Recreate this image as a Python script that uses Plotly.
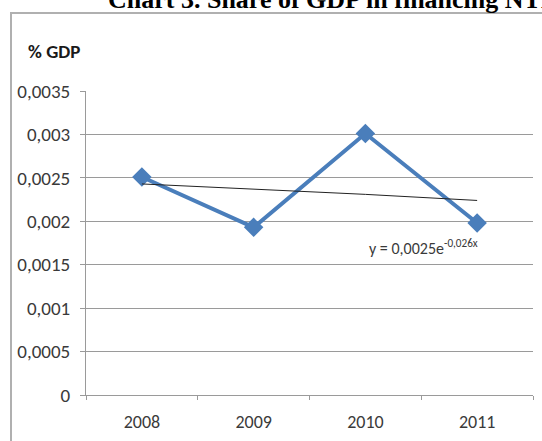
import plotly.graph_objects as go

years = ["2008", "2009", "2010", "2011"]
share_gdp = [0.00251, 0.00193, 0.00301, 0.00198]
trend_values = [0.00243, 0.00237, 0.00231, 0.00224]
y_tick_vals = [0, 0.0005, 0.001, 0.0015, 0.002, 0.0025, 0.003, 0.0035]
y_tick_text = ["0", "0,0005", "0,001", "0,0015", "0,002", "0,0025", "0,003", "0,0035"]
title_text = "Chart 3. Share of GDP in financing NTM"
y_label = "% GDP"
equation = "y = 0,0025e<sup>-0,026x</sup>"

W, H = 542, 441
L, R, T, B = 86, 9, 91, 46
PW, PH = W - L - R, H - T - B

def px(x):
    return (x - L) / PW

def py(y):
    return (H - B - y) / PH

FONT = "Carlito, Lato, sans-serif"
GRID = "#9a9a9a"

fig = go.Figure()
fig.add_trace(go.Scatter(
    x=years, y=share_gdp, mode="lines+markers",
    line=dict(color="#4a7ebb", width=4),
    marker=dict(symbol="diamond", size=15, color="#4a7ebb"),
    showlegend=False, hoverinfo="skip",
))
fig.add_trace(go.Scatter(
    x=years, y=trend_values, mode="lines",
    line=dict(color="#222222", width=1),
    showlegend=False, hoverinfo="skip",
))

fig.update_layout(
    width=W, height=H,
    margin=dict(l=L, r=R, t=T, b=B, pad=0),
    paper_bgcolor="white", plot_bgcolor="white",
    font=dict(family=FONT, size=15, color="#3a3a3a"),
    xaxis=dict(
        type="category", range=[-0.5, 3.5], showgrid=False,
        showline=True, linecolor=GRID, linewidth=1,
        ticks="outside", tickson="boundaries", ticklen=4, tickcolor=GRID,
        tickfont=dict(family=FONT, size=18, color="#3a3a3a"),
        ticklabelstandoff=10, zeroline=False,
    ),
    yaxis=dict(
        range=[0, 0.0035], tickvals=y_tick_vals, ticktext=y_tick_text,
        showgrid=True, gridcolor=GRID, gridwidth=1,
        showline=True, linecolor=GRID, linewidth=1,
        ticks="outside", ticklen=5, tickcolor=GRID,
        tickfont=dict(family=FONT, size=19, color="#3a3a3a"),
        ticklabelstandoff=6, zeroline=False,
    ),
)

# chart frame
fig.add_shape(type="rect", xref="paper", yref="paper",
              x0=px(11), x1=px(560), y0=py(460), y1=py(13),
              line=dict(color="#b0b0b0", width=2), layer="below")

# cut-off page title above the frame
fig.add_annotation(text="<b>" + title_text + "</b>", xref="paper", yref="paper",
                   x=px(106), y=py(16), xanchor="left", yanchor="bottom",
                   showarrow=False,
                   font=dict(family="Liberation Serif, Times New Roman, serif", size=26, color="#000000"))

fig.add_annotation(text=y_label, xref="paper", yref="paper",
                   x=px(26), y=py(52), xanchor="left", yanchor="middle",
                   showarrow=False,
                   font=dict(family=FONT, size=19, color="#1a1a1a", weight="bold"))

fig.add_annotation(text=equation, xref="paper", yref="paper",
                   x=px(367), y=py(247), xanchor="left", yanchor="middle",
                   showarrow=False,
                   font=dict(family=FONT, size=16, color="#3a3a3a"))

fig.write_html("out.html")
